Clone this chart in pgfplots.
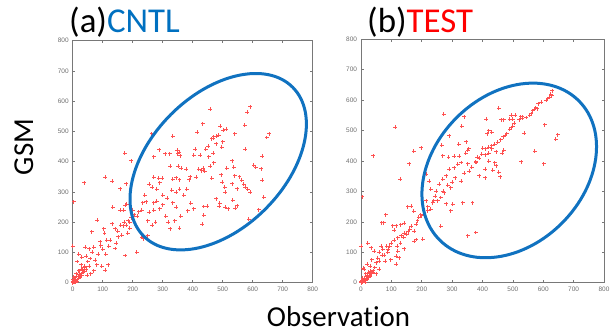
\documentclass[border=0pt]{standalone}
\usepackage{pgfplots}
\pgfplotsset{compat=1.18}
\usepackage{pgfplotstable}
\usepackage{fontspec}
\setmainfont{Carlito}[Ligatures={NoCommon}]
\newfontfamily\tickfont{Liberation Sans}
\definecolor{cntlblue}{RGB}{0,112,192}
\definecolor{ellblue}{RGB}{16,114,192}
\definecolor{axgray}{RGB}{120,120,120}
\definecolor{tickgray}{RGB}{110,110,110}
\definecolor{dotred}{RGB}{255,80,80}

\pgfplotstableread{
x y
0 0
2 3
5 2
3 8
8 5
10 12
12 6
6 14
15 10
18 20
20 15
14 22
22 28
25 18
28 30
30 24
9 1
1 10
4 18
16 4
35 35
33 42
40 38
24 40
12 30
38 50
45 45
0 120
3 268
39 330
109 349
131 336
159 311
178 327
134 250
159 239
170 239
175 256
81 206
131 195
172 200
178 190
168 188
185 205
103 179
142 179
64 168
106 163
114 140
152 152
164 157
183 163
92 135
42 118
55 112
70 117
93 122
142 113
175 90
214 101
237 146
230 150
20 95
30 85
15 70
28 60
45 88
58 80
40 55
55 55
109 41
97 54
118 60
50 70
65 100
75 75
85 95
120 120
125 140
145 130
100 110
110 95
150 170
160 190
190 200
195 215
200 210
205 225
215 220
220 235
200 240
190 180
60 30
70 40
80 60
48 25
30 45
20 40
180 260
230 240
325 386
351 385
362 378
378 375
270 349
287 345
298 345
334 342
345 347
356 340
388 340
392 350
255 325
265 315
280 310
290 330
330 306
345 300
356 310
233 264
245 268
270 264
255 233
270 240
290 245
300 258
333 264
384 238
393 262
318 200
340 205
325 178
356 180
265 190
276 200
237 145
250 155
310 220
300 290
315 280
370 290
380 310
240 290
250 205
360 220
280 270
345 250
264 493
333 485
173 428
289 439
309 427
323 427
349 438
355 432
350 426
359 420
270 416
195 403
459 574
592 582
582 563
434 526
415 498
492 518
573 520
501 505
512 508
487 488
540 492
655 492
647 480
464 476
470 482
478 485
468 478
500 466
451 452
478 459
408 441
443 442
469 428
497 448
575 442
425 422
404 422
631 419
531 403
453 417
603 388
610 382
628 377
537 382
514 379
470 396
459 385
420 375
430 370
435 378
440 368
411 349
464 346
495 357
540 353
556 350
564 338
570 325
575 316
583 309
631 338
531 327
498 333
507 316
509 300
548 311
592 300
637 283
479 278
490 262
509 250
518 245
542 247
548 255
533 272
488 252
437 252
448 253
404 245
437 223
431 194
587 210
620 241
}\cntl

\pgfplotstableread{
x y
0 0
2 2
4 6
6 3
8 10
10 5
12 14
15 8
18 20
20 12
22 25
25 18
28 30
30 22
5 15
14 2
35 30
32 38
40 35
3 1
1 4
9 8
0 120
5 282
8 47
41 417
113 511
173 433
198 443
159 391
129 340
154 250
165 252
173 235
82 224
68 197
75 197
110 173
104 187
115 187
131 190
143 195
186 204
197 224
190 215
176 170
181 192
203 143
100 130
110 140
121 148
132 155
143 162
155 168
22 130
33 115
44 104
66 120
71 110
88 100
77 90
121 104
176 137
181 142
143 112
115 88
126 82
98 75
115 60
20 60
30 55
45 50
40 40
25 35
10 45
50 65
55 80
60 70
35 75
15 30
50 30
60 45
130 130
140 150
160 175
165 185
150 160
120 120
90 110
95 120
60 100
70 90
80 70
85 120
214 356
225 334
230 307
247 301
258 323
269 340
280 351
291 373
307 378
318 389
329 395
351 391
378 397
357 367
329 334
296 312
274 296
263 280
252 269
236 263
230 241
219 236
208 225
263 186
296 236
302 258
351 154
378 165
335 263
367 263
389 351
240 270
245 285
285 320
300 330
310 345
340 360
365 380
270 300
220 250
215 270
200 220
280 260
272 554
340 545
331 514
291 483
266 452
347 463
322 455
345 425
352 435
355 440
269 417
288 412
307 415
323 415
382 412
397 423
630 631
625 620
620 610
628 615
615 605
610 600
594 593
583 588
575 575
565 565
570 570
580 572
560 555
555 550
544 543
530 540
520 535
505 525
500 515
495 510
490 505
480 490
475 485
468 480
460 470
450 462
440 455
430 450
420 445
410 440
400 442
453 574
413 538
462 535
470 535
495 551
508 551
490 537
500 537
526 545
530 545
605 519
648 486
641 472
537 491
420 500
430 495
415 490
430 440
445 430
470 435
465 425
420 425
572 432
408 373
408 345
440 394
445 385
434 370
454 364
459 348
528 397
602 391
420 400
380 395
390 410
410 420
}\test

\pgfplotsset{
  scatstyle/.style={
    scale only axis,
    xmin=0, xmax=800, ymin=0, ymax=800,
    xtick={0,100,...,800}, ytick={0,100,...,800},
    tick align=inside,
    major tick length=2.5bp,
    axis line style={axgray, line width=0.7bp},
    every tick/.style={axgray, line width=0.6bp},
    /pgf/number format/assume math mode=true,
    ticklabel style={font=\tickfont\fontsize{6.5}{7}\selectfont, text=tickgray},
    xticklabel style={yshift=-0.5bp},
    yticklabel style={xshift=-0.5bp},
    clip=false,
  },
  dots/.style={draw=none, mark=none,
    error bars/.cd, x dir=both, x fixed=6.5, y dir=both, y fixed=6.5,
    error mark=none, error bar style={draw=dotred, solid, line width=0.85bp}},
}

\begin{document}
\begin{tikzpicture}
\path[use as bounding box] (0,0) rectangle (611bp,333bp);

\begin{axis}[scatstyle, at={(72.7bp,50.3bp)}, anchor=south west, width=240bp, height=242bp]
\addplot[dots] table[x=x,y=y] {\cntl};
\draw[ellblue, line width=3bp, rotate around={45:(axis cs:485,400)}] (axis cs:485,400) ellipse [x radius=351, y radius=221];
\end{axis}

\begin{axis}[scatstyle, at={(361bp,50.3bp)}, anchor=south west, width=243bp, height=243.4bp]
\addplot[dots] table[x=x,y=y] {\test};
\draw[ellblue, line width=3bp, rotate around={45:(axis cs:488,369)}] (axis cs:488,369) ellipse [x radius=324, y radius=245];
\end{axis}

\node[anchor=base west, inner sep=0pt, font=\fontsize{35}{38}\selectfont] at (69bp,300bp) {(a)\textcolor{cntlblue}{CNTL}};
\node[anchor=base west, inner sep=0pt, font=\fontsize{35}{38}\selectfont] at (367bp,300bp) {(b)\textcolor{red}{TEST}};
\node[rotate=90, anchor=base, inner sep=0pt, font=\fontsize{29}{32}\selectfont] at (33bp,186bp) {GSM};
\node[anchor=base, inner sep=0pt, font=\fontsize{29}{32}\selectfont] at (338.5bp,7bp) {Observation};
\end{tikzpicture}
\end{document}
